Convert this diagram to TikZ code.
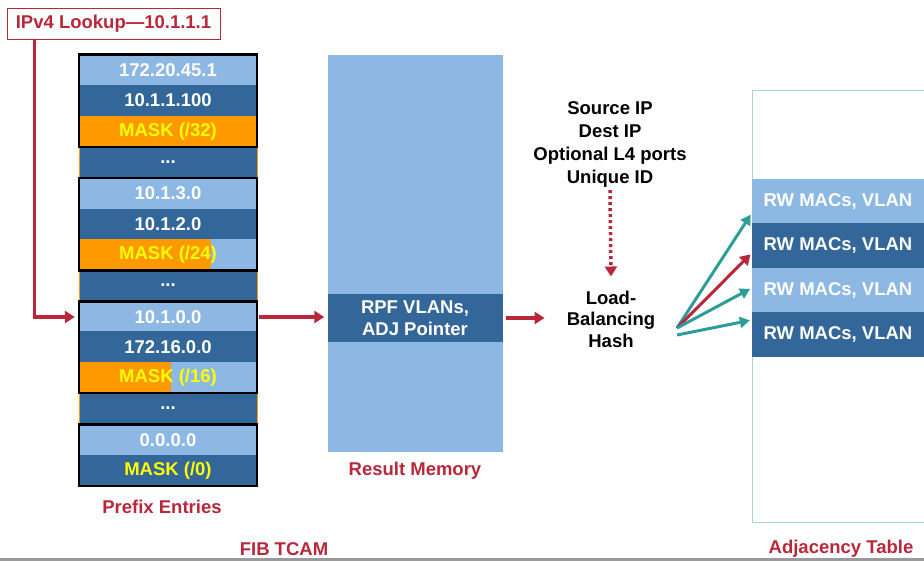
\documentclass[tikz,border=0pt]{standalone}
\usepackage{fontspec}
\setmainfont{Liberation Sans}
\usetikzlibrary{arrows.meta}
\definecolor{lite}{HTML}{8DB8E4}
\definecolor{dark}{HTML}{336699}
\definecolor{maskorange}{HTML}{FF9900}
\definecolor{maskyellow}{HTML}{FFFF00}
\definecolor{lookred}{HTML}{B8283A}
\definecolor{fanteal}{HTML}{2E9C98}
\definecolor{adjframe}{HTML}{A6D6D6}
\definecolor{bottomgrey}{HTML}{9A9A9A}

\begin{document}
\begin{tikzpicture}[x=1pt,y=-1pt,
  every node/.style={font=\fontsize{18.5}{22}\selectfont\bfseries, inner sep=0pt},
  row/.style={minimum width=178pt, minimum height=31pt, text=white},
  lite/.style={row, fill=lite},
  dark/.style={row, fill=dark},
  dots/.style={row, fill=dark, draw=maskorange, line width=0.8pt},
  mask/.style={row, fill=maskorange, text=maskyellow},
  part/.style={row, fill=lite, text=maskyellow, path picture={\fill[maskorange] (path picture bounding box.south west) rectangle ([xshift=#1]path picture bounding box.north west);}},
  block/.style={draw=black, line width=2.5pt},
  adjrow/.style={minimum width=172pt, minimum height=44.5pt, text=white},
  title/.style={text=lookred},
  redarrow/.style={draw=lookred, line width=3.5pt, -{Triangle[width=12pt,length=10pt]}},
  tealarrow/.style={draw=fanteal, line width=3pt, -{Triangle[width=11pt,length=10pt]}, shorten >=2pt}
]
\useasboundingbox (0,0) rectangle (924,561);

% FIB TCAM
\node [lite] (r1) at (168,70) {172.20.45.1};
\node [dark] (r2) at (168,100.5) {10.1.1.100};
\node [mask] (r3) at (168,131.5) {MASK (/32)};
\node [dots] (r4) at (168,162) {...};
\node [lite] (r5) at (168,193.5) {10.1.3.0};
\node [dark] (r6) at (168,224.5) {10.1.2.0};
\node [part=132pt] (r7) at (168,255) {MASK (/24)};
\node [dots] (r8) at (168,285.5) {...};
\node [lite] (r9) at (168,317) {10.1.0.0};
\node [dark] (r10) at (168,347) {172.16.0.0};
\node [part=92pt] (r11) at (168,377.5) {MASK (/16)};
\node [dots] (r12) at (168,408.5) {...};
\node [lite] (r13) at (168,440) {0.0.0.0};
\node [dark, text=maskyellow] (r14) at (168,470.5) {MASK (/0)};
\draw [block] (r1.north west) rectangle (r3.south east);
\draw [block] (r5.north west) rectangle (r7.south east);
\draw [block] (r9.north west) rectangle (r11.south east);
\draw [block] (r13.north west) rectangle (r14.south east);
\node [title] (prefix) at (162,507) {Prefix Entries};
\node [title] (fib) at (284,549) {FIB TCAM};

% lookup key
\node [draw=lookred, line width=0.8pt, fill=white, text=lookred, minimum width=213pt, minimum height=31pt] (lookup) at (113.5,23.5) {IPv4 Lookup—10.1.1.1};
\draw [redarrow] ([xshift=28pt]lookup.south west) |- ([xshift=-4pt]r9.west);

% result memory
\node [fill=lite, minimum width=175pt, minimum height=397pt] (resmem) at (415,253.5) {};
\node [fill=dark, minimum width=175pt, minimum height=48pt, text=white, align=center] (rpf) at (415,318) {RPF VLANs,\\ADJ Pointer};
\node [title] (resname) at (415,471) {Result Memory};
\draw [redarrow, shorten <=2pt, shorten >=3pt] (r9.east) -- (r9.east -| rpf.west);

% hash
\node [align=center, font=\fontsize{18.5}{23}\selectfont\bfseries] (keys) at (610,144) {Source IP\\Dest IP\\Optional L4 ports\\Unique ID};
\node [align=center, font=\fontsize{18.5}{21.5}\selectfont\bfseries] (hash) at (611,319) {Load-\\Balancing\\Hash};
\draw [redarrow, dash pattern=on 3pt off 3pt] ([yshift=-3pt]keys.south) -- ([yshift=14pt]hash.north);
\draw [redarrow, shorten <=3pt, shorten >=22pt] (rpf.east) -- (rpf.east -| hash.west);

% adjacency table
\draw [adjframe, line width=1pt] (924,91) -| (752,522) -- (924,522);
\node [adjrow, fill=lite] (adj1) at (838,201) {RW MACs, VLAN};
\node [adjrow, fill=dark] (adj2) at (838,245.5) {RW MACs, VLAN};
\node [adjrow, fill=lite] (adj3) at (838,290) {RW MACs, VLAN};
\node [adjrow, fill=dark] (adj4) at (838,334.5) {RW MACs, VLAN};
\node [title] (adjname) at (841,549) {Adjacency Table};
\coordinate (fan) at (677,328);
\coordinate (fanlow) at (677,335);
\draw [tealarrow] (fan) -- ([yshift=-12pt]adj1.west);
\draw [redarrow, line width=3pt, shorten >=2pt] (fan) -- ([yshift=-7.5pt]adj2.west);
\draw [tealarrow] (fan) -- ([yshift=2pt]adj3.west);
\draw [tealarrow] (fanlow) -- ([yshift=14.5pt]adj4.west);

\fill [bottomgrey] (0,558) rectangle (924,561);
\end{tikzpicture}
\end{document}
